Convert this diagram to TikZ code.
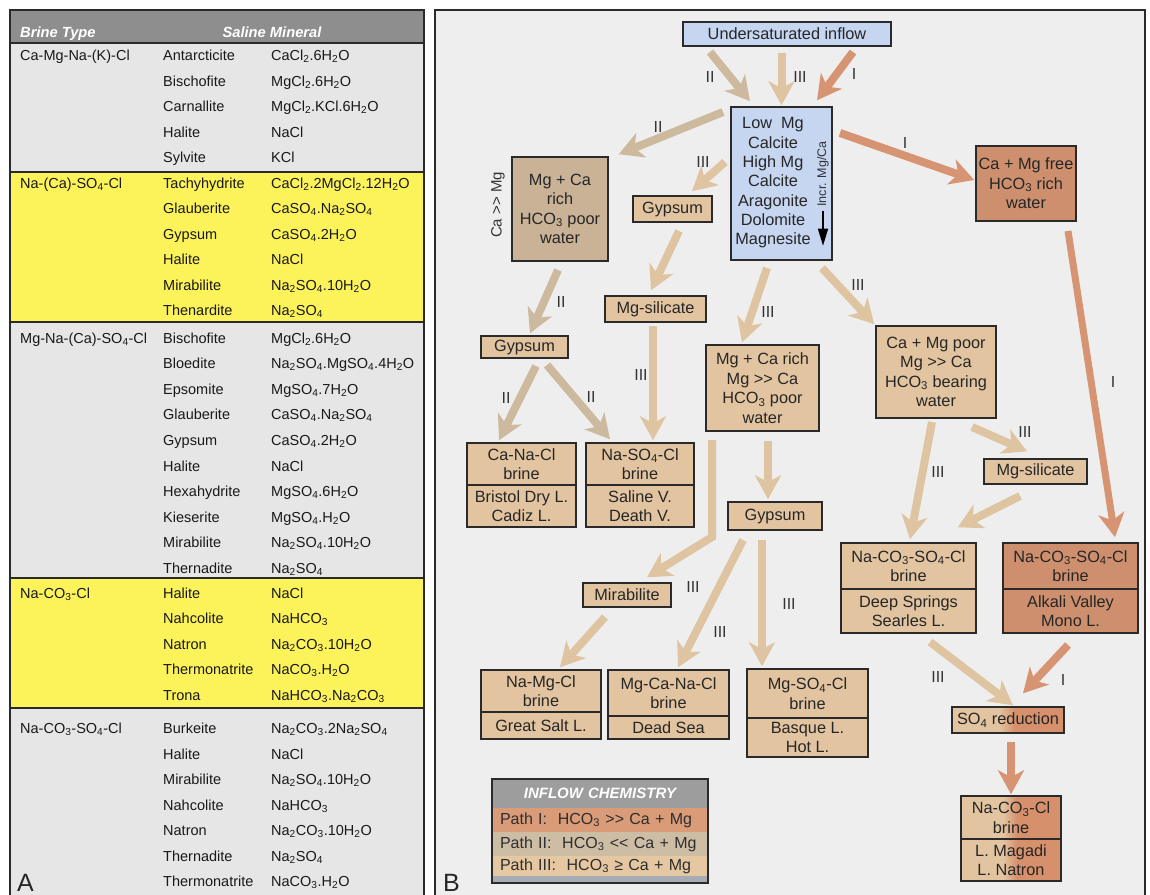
\documentclass[tikz,border=0pt]{standalone}
\usepackage{fontspec}
\setmainfont{Liberation Sans}
\usetikzlibrary{arrows.meta,calc}
\definecolor{tanC}{HTML}{E2C4A0}
\definecolor{dtanC}{HTML}{C9B296}
\definecolor{orC}{HTML}{CD8F6D}
\definecolor{orC2}{HTML}{D6906C}
\definecolor{blueC}{HTML}{C6D5F0}
\definecolor{arI}{HTML}{D69472}
\definecolor{arII}{HTML}{CDBA9E}
\definecolor{arIII}{HTML}{DEC4A0}
\definecolor{grayR}{HTML}{E6E6E6}
\definecolor{yelR}{HTML}{FCF25A}
\definecolor{hdrC}{HTML}{8E8E8E}
\definecolor{panelC}{HTML}{EEEEEE}
\definecolor{edgeC}{HTML}{2A2A2A}
\definecolor{legH}{HTML}{9D9D9D}
\definecolor{legI}{HTML}{D99B78}
\definecolor{legII}{HTML}{CDBDA5}
\definecolor{legIII}{HTML}{E5C7A2}
\definecolor{legS}{HTML}{A6ACB5}
\pgfdeclarehorizontalshading{tanor}{100bp}{color(0bp)=(tanC); color(46bp)=(tanC); color(53bp)=(orC2); color(100bp)=(orC2)}
\newcommand\mysb[1]{\textsubscript{#1}}
\newcommand\trow[4]{\node[tcell] (m#1) at (163,#2) {#3}; \node[tcell] (f#1) at (271,#2) {#4};}
\tikzset{
  box/.style={draw=edgeC, line width=1.5pt, fill=tanC, align=center, inner sep=0pt, text=black!85, font=\fontsize{16.3}{19.5}\selectfont},
  boxtext/.style={align=center, inner sep=0pt, text=black!85, font=\fontsize{16.3}{19.33}\selectfont},
  lab/.style={inner sep=0pt, text=black!80, font=\fontsize{16}{16}\selectfont},
  tcell/.style={anchor=base west, yshift=-5pt, inner sep=0pt, text=black!90, font=\fontsize{14.5}{16}\selectfont},
  hdr/.style={anchor=base, yshift=-5pt, inner sep=0pt, text=white, font=\fontsize{14.7}{16}\selectfont\bfseries\itshape},
  legrow/.style={minimum width=216pt, text width=200pt, inner xsep=8pt, inner ysep=0pt, align=left, text=black!82, font=\fontsize{16}{18}\selectfont},
  arr/.style={line width=8pt, -{Stealth[length=24pt,width=26pt,inset=7pt]}},
  aI/.style={arr, draw=arI},
  aII/.style={arr, draw=arII},
  aIII/.style={arr, draw=arIII},
}
\begin{document}
\begin{tikzpicture}[x=1pt,y=-1pt]
\useasboundingbox (0,0) rectangle (1150,894);
\fill[white] (0,0) rectangle (1150,894);
% ---------------- Panel A ----------------
\fill[hdrC] (10,10) rectangle (424,43);
\fill[grayR] (10,43) rectangle (424,172);
\fill[yelR] (10,172) rectangle (424,322);
\fill[grayR] (10,322) rectangle (424,578);
\fill[yelR] (10,578) rectangle (424,708);
\fill[grayR] (10,708) rectangle (424,900);
\draw[edgeC, line width=1.5pt] (10,10) rectangle (424,900);
\foreach \yy in {43,172,322,578,708} \draw[edgeC, line width=2pt] (10,\yy) -- (424,\yy);
\node[hdr, anchor=base west] (hB) at (20,32) {Brine Type};
\node[hdr] (hS) at (272,32) {Saline Mineral};
\node[tcell] (b1) at (20,55) {Ca-Mg-Na-(K)-Cl};
\node[tcell] (b2) at (20,183) {Na-(Ca)-SO\mysb4-Cl};
\node[tcell] (b3) at (20,338) {Mg-Na-(Ca)-SO\mysb4-Cl};
\node[tcell] (b4) at (20,593) {Na-CO\mysb3-Cl};
\node[tcell] (b5) at (20,728) {Na-CO\mysb3-SO\mysb4-Cl};
\trow{11}{55}{Antarcticite}{CaCl\mysb2.6H\mysb2O}
\trow{12}{81}{Bischofite}{MgCl\mysb2.6H\mysb2O}
\trow{13}{106}{Carnallite}{MgCl\mysb2.KCl.6H\mysb2O}
\trow{14}{132}{Halite}{NaCl}
\trow{15}{157}{Sylvite}{KCl}
\trow{21}{183}{Tachyhydrite}{CaCl\mysb2.2MgCl\mysb2.12H\mysb2O}
\trow{22}{208}{Glauberite}{CaSO\mysb4.Na\mysb2SO\mysb4}
\trow{23}{234}{Gypsum}{CaSO\mysb4.2H\mysb2O}
\trow{24}{259}{Halite}{NaCl}
\trow{25}{285}{Mirabilite}{Na\mysb2SO\mysb4.10H\mysb2O}
\trow{26}{310}{Thenardite}{Na\mysb2SO\mysb4}
\trow{31}{338}{Bischofite}{MgCl\mysb2.6H\mysb2O}
\trow{32}{363}{Bloedite}{Na\mysb2SO\mysb4.MgSO\mysb4.4H\mysb2O}
\trow{33}{389}{Epsomite}{MgSO\mysb4.7H\mysb2O}
\trow{34}{414}{Glauberite}{CaSO\mysb4.Na\mysb2SO\mysb4}
\trow{35}{440}{Gypsum}{CaSO\mysb4.2H\mysb2O}
\trow{36}{466}{Halite}{NaCl}
\trow{37}{491}{Hexahydrite}{MgSO\mysb4.6H\mysb2O}
\trow{38}{517}{Kieserite}{MgSO\mysb4.H\mysb2O}
\trow{39}{542}{Mirabilite}{Na\mysb2SO\mysb4.10H\mysb2O}
\trow{30}{568}{Thernadite}{Na\mysb2SO\mysb4}
\trow{41}{593}{Halite}{NaCl}
\trow{42}{618}{Nahcolite}{NaHCO\mysb3}
\trow{43}{644}{Natron}{Na\mysb2CO\mysb3.10H\mysb2O}
\trow{44}{669}{Thermonatrite}{NaCO\mysb3.H\mysb2O}
\trow{45}{695}{Trona}{NaHCO\mysb3.Na\mysb2CO\mysb3}
\trow{51}{728}{Burkeite}{Na\mysb2CO\mysb3.2Na\mysb2SO\mysb4}
\trow{52}{754}{Halite}{NaCl}
\trow{53}{779}{Mirabilite}{Na\mysb2SO\mysb4.10H\mysb2O}
\trow{54}{805}{Nahcolite}{NaHCO\mysb3}
\trow{55}{830}{Natron}{Na\mysb2CO\mysb3.10H\mysb2O}
\trow{56}{856}{Thernadite}{Na\mysb2SO\mysb4}
\trow{57}{881}{Thermonatrite}{NaCO\mysb3.H\mysb2O}
\node[anchor=base west, inner sep=0pt, text=black!85, font=\fontsize{25}{25}\selectfont] (lA) at (17,891) {A};
% ---------------- Panel B ----------------
\fill[panelC] (435,10) rectangle (1145,900);
\draw[edgeC, line width=1.2pt] (435,10) rectangle (1145,900);
\node[anchor=base west, inner sep=0pt, text=black!85, font=\fontsize{25}{25}\selectfont] (lB) at (443,891) {B};
% nodes
\node[box, fill=blueC, minimum width=208pt, minimum height=24pt] (und) at (787,34) {Undersaturated inflow};
\node[box, fill=blueC, minimum width=101pt, minimum height=153pt] (carb) at (781.5,183.5) {};
\node[boxtext] (carbT) at (773,183) {Low\ \ Mg\\Calcite\\High Mg\\Calcite\\Aragonite\\Dolomite\\Magnesite};
\node[lab, rotate=90, font=\fontsize{12.5}{12.5}\selectfont] (incr) at (823,174) {Incr. Mg/Ca};
\draw[black, line width=1.6pt, -{Triangle[length=17pt,width=10pt]}] ($(incr.west)+(0,4)$) -- ++(0,35);
\node[box, fill=dtanC, minimum width=96pt, minimum height=104pt] (mgca1) at (560,209) {Mg + Ca\\rich\\HCO\mysb3 poor\\water};
\node[lab, rotate=90, font=\fontsize{15}{15}\selectfont] (camg) at (498,205) {Ca >{}> Mg};
\node[box, minimum width=79pt, minimum height=26pt] (gyp1) at (672.5,209) {Gypsum};
\node[box, minimum width=101pt, minimum height=26pt] (msil1) at (655.5,309) {Mg-silicate};
\node[box, fill=orC, minimum width=100pt, minimum height=75pt] (free) at (1026,183.5) {Ca + Mg free\\HCO\mysb3 rich\\water};
\node[box, minimum width=87pt, minimum height=22pt] (gyp2) at (524.5,347) {Gypsum};
\node[box, minimum width=109pt, minimum height=42pt] (canaT) at (521.5,464) {Ca-Na-Cl\\brine};
\node[box, minimum width=109pt, minimum height=42pt] (canaB) at (521.5,506) {Bristol Dry L.\\Cadiz L.};
\node[box, minimum width=108pt, minimum height=42pt] (nasoT) at (640,464) {Na-SO\mysb4-Cl\\brine};
\node[box, minimum width=108pt, minimum height=42pt] (nasoB) at (640,506) {Saline V.\\Death V.};
\node[box, minimum width=113pt, minimum height=86pt] (mgca2) at (762.5,388) {Mg + Ca rich\\Mg >{}> Ca\\HCO\mysb3 poor\\water};
\node[box, minimum width=94pt, minimum height=28pt] (gyp3) at (775,516) {Gypsum};
\node[box, minimum width=120pt, minimum height=92pt] (poor) at (936,372) {Ca + Mg poor\\Mg >{}> Ca\\HCO\mysb3 bearing\\water};
\node[box, minimum width=103pt, minimum height=25pt] (msil2) at (1035.5,471.5) {Mg-silicate};
\node[box, minimum width=135pt, minimum height=46pt] (dsT) at (908.5,566) {Na-CO\mysb3-SO\mysb4-Cl\\brine};
\node[box, minimum width=135pt, minimum height=44pt] (dsB) at (908.5,611) {Deep Springs\\Searles L.};
\node[box, fill=orC, minimum width=135pt, minimum height=46pt] (avT) at (1070.5,566) {Na-CO\mysb3-SO\mysb4-Cl\\brine};
\node[box, fill=orC, minimum width=135pt, minimum height=44pt] (avB) at (1070.5,611) {Alkali Valley\\Mono L.};
\node[box, minimum width=88pt, minimum height=24pt] (mira) at (627,595) {Mirabilite};
\node[box, minimum width=120pt, minimum height=42pt] (namgT) at (541,691) {Na-Mg-Cl\\brine};
\node[box, minimum width=120pt, minimum height=27pt] (namgB) at (541,725.5) {Great Salt L.};
\node[box, minimum width=121pt, minimum height=46pt] (mgcanaT) at (668.5,693) {Mg-Ca-Na-Cl\\brine};
\node[box, minimum width=121pt, minimum height=23pt] (mgcanaB) at (668.5,727.5) {Dead Sea};
\node[box, minimum width=121pt, minimum height=49pt] (mgsoT) at (807.5,693.5) {Mg-SO\mysb4-Cl\\brine};
\node[box, minimum width=121pt, minimum height=39pt] (mgsoB) at (807.5,737.5) {Basque L.\\Hot L.};
\node[box, shade, shading=tanor, minimum width=112pt, minimum height=26pt] (so4) at (1008,720) {SO\mysb4 reduction};
\node[box, shade, shading=tanor, minimum width=100pt, minimum height=43pt] (ncoT) at (1011,817.5) {Na-CO\mysb3-Cl\\brine};
\node[box, shade, shading=tanor, minimum width=100pt, minimum height=42pt] (ncoB) at (1011,860) {L. Magadi\\L. Natron};
% legend
\node[legrow, fill=legH, align=center, minimum height=29pt, text=white, font=\fontsize{15}{17}\selectfont\bfseries\itshape] (lgH) at (600,793.5) {INFLOW CHEMISTRY};
\node[legrow, fill=legI, minimum height=24pt] (lg1) at (600,820) {Path I:\ \ HCO\mysb3 >{}> Ca + Mg};
\node[legrow, fill=legII, minimum height=24pt] (lg2) at (600,844) {Path II:\ \ HCO\mysb3 <{}< Ca + Mg};
\node[legrow, fill=legIII, minimum height=20pt] (lg3) at (600,866) {Path III:\ \ HCO\mysb3 ≥ Ca + Mg};
\node[minimum width=216pt, minimum height=7pt, inner sep=0pt, fill=legS] (lgS) at (600,879.5) {};
\draw[edgeC, line width=1.5pt] (lgH.north west) rectangle (lgS.south east);
% arrow start coordinates
\coordinate (s1) at (710,52);
\coordinate (s2) at (781.5,53);
\coordinate (s3) at (853,52);
\coordinate (s4) at (723,112);
\coordinate (s5) at (725,162);
\coordinate (s6) at (679,231);
\coordinate (s7) at (840,133);
\coordinate (s8) at (558,270);
\coordinate (s9) at (653,326);
\coordinate (s10) at (536,366);
\coordinate (s11) at (547,365);
\coordinate (s12) at (767,268);
\coordinate (s13) at (822,268);
\coordinate (s14) at (1068,231);
\coordinate (s15) at (768,441);
\coordinate (s16) at (712,440);
\coordinate (s16b) at (712,537);
\coordinate (s17) at (743,540);
\coordinate (s18) at (762,540);
\coordinate (s19) at (605,617);
\coordinate (s20) at (932,422);
\coordinate (s21) at (972,427);
\coordinate (s22) at (1020,496);
\coordinate (s23) at (930,642);
\coordinate (s24) at (1068,645);
\coordinate (s25) at (1011,742);
% arrows
\draw[aII] (s1) -- ($(carb.north)+(-31.5,-5)$);
\draw[aIII] (s2) -- ($(carb.north)+(0,-1)$);
\draw[aI] (s3) -- ($(carb.north)+(35.5,-6)$);
\draw[aII] (s4) -- ($(mgca1.north east)+(10,-2)$);
\draw[aIII] (s5) -- ($(gyp1.north)+(19.5,-4)$);
\draw[aIII] (s6) -- ($(msil1.north)+(-4.5,-5)$);
\draw[aI] (s7) -- ($(free.west)+(-1,-3.5)$);
\draw[aII] (s8) -- ($(gyp2.north)+(5.5,-2)$);
\draw[aIII] (s9) -- ($(nasoT.north)+(13,-2)$);
\draw[aII] (s10) -- ($(canaT.north)+(-22.5,-2)$);
\draw[aII] (s11) -- ($(nasoT.north)+(-30,-3)$);
\draw[aIII] (s12) -- ($(mgca2.north)+(-20.5,-2)$);
\draw[aIII] (s13) -- ($(poor.north west)+(-1,-1)$);
\draw[aI, line width=7pt] (s14) -- ($(avT.north)+(44.5,-5)$);
\draw[aIII] (s15) -- ($(gyp3.north)+(-7,-2)$);
\draw[aIII, line join=miter] (s16) -- (s16b) -- ($(mira.north)+(20,-5)$);
\draw[aIII] (s17) -- ($(mgcanaT.north)+(9.5,-2)$);
\draw[aIII] (s18) -- ($(mgsoT.north)+(-45.5,-2)$);
\draw[aIII] (s19) -- ($(namgT.north)+(19,-2)$);
\draw[aIII] (s20) -- ($(dsT.north)+(1.5,-3)$);
\draw[aIII] (s21) -- ($(msil2.north)+(-8.5,-7)$);
\draw[aIII] (s22) -- ($(dsT.north east)+(-19,-15)$);
\draw[aIII] (s23) -- ($(so4.north)+(5,-1)$);
\draw[aI] (s24) -- ($(so4.north)+(15,-13)$);
\draw[aI] (s25) -- ($(ncoT.north)+(0,-1)$);
% path labels
\node[lab] (l1) at (710,77) {II};
\node[lab] (l2) at (800,77) {III};
\node[lab] (l3) at (854,74) {I};
\node[lab] (l4) at (658,127) {II};
\node[lab] (l5) at (703,162) {III};
\node[lab] (l7) at (905,143) {I};
\node[lab] (l8) at (561,302) {II};
\node[lab] (l9) at (641,375) {III};
\node[lab] (l10) at (506,398) {II};
\node[lab] (l11) at (591,397) {II};
\node[lab] (l12) at (768,312) {III};
\node[lab] (l13) at (858,285) {III};
\node[lab] (l14) at (1113,382) {I};
\node[lab] (l16) at (693,587) {III};
\node[lab] (l17) at (720,632) {III};
\node[lab] (l18) at (789,604) {III};
\node[lab] (l20) at (938,472) {III};
\node[lab] (l21) at (1025,432) {III};
\node[lab] (l23) at (938,677) {III};
\node[lab] (l24) at (1063,680) {I};
\end{tikzpicture}
\end{document}
